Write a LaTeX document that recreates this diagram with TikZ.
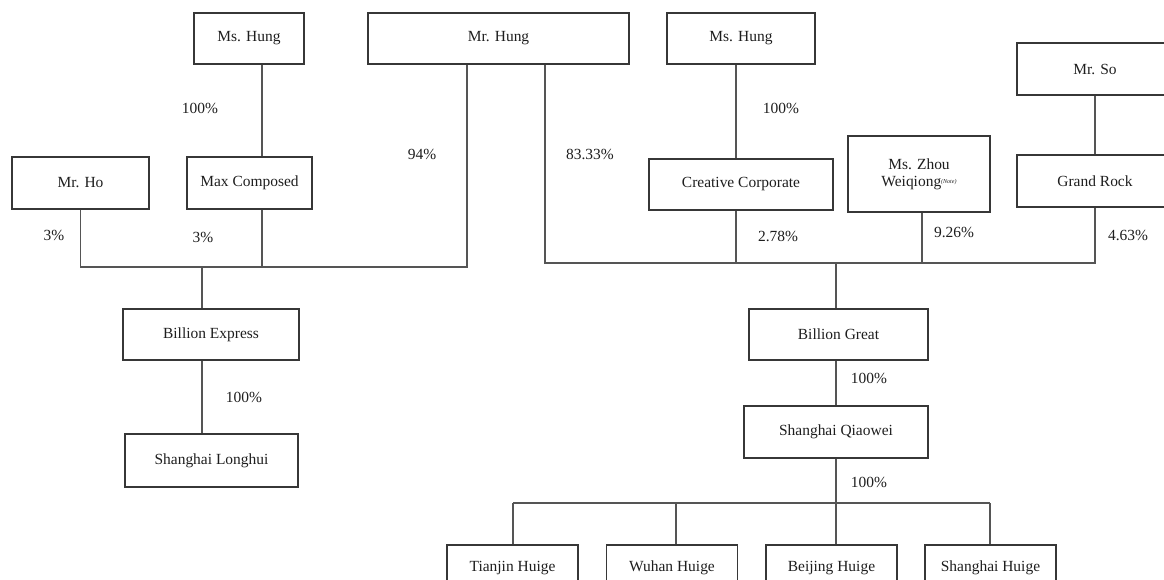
\documentclass[tikz,border=0pt]{standalone}
\usepackage{fontspec}
\setmainfont{Liberation Serif}
\usepackage{xcolor}
\definecolor{boxline}{RGB}{55,55,55}
\definecolor{linkgrey}{RGB}{85,85,85}
\definecolor{textgrey}{RGB}{30,30,30}
\newlength\pxu
\setlength\pxu{0.75pt}

\begin{document}
\begin{tikzpicture}[x=0.75pt, y=-0.75pt,
    box/.style={draw=boxline, line width=0.8pt, inner sep=0pt, minimum height=51\pxu,
      text=textgrey, font=\fontsize{11.6}{14}\selectfont},
    link/.style={draw=linkgrey, line width=0.8pt},
    pct/.style={text=textgrey, inner sep=0pt, font=\fontsize{11.6}{14}\selectfont}]
  \useasboundingbox (0,0) rectangle (1164,579);
  \clip (0,0) rectangle (1164,579);
  % Owners (top row)
  \node[box, minimum width=110\pxu] (msHungL) at (249,38.5) {Ms. Hung};
  \node[box, minimum width=261\pxu] (mrHung) at (498.5,38.5) {Mr. Hung};
  \node[box, minimum width=148\pxu] (msHungR) at (741,38.5) {Ms. Hung};
  \node[box, minimum width=156\pxu, minimum height=52\pxu] (mrSo) at (1095,69) {Mr. So};
  % Holding level
  \node[box, minimum width=137\pxu, minimum height=52\pxu] (mrHo) at (80.5,183) {Mr. Ho};
  \node[box, minimum width=125\pxu, minimum height=52\pxu] (maxComp) at (249.5,183) {Max Composed};
  \node[box, minimum width=184\pxu] (creative) at (741,184.5) {Creative Corporate};
  \node[box, minimum width=142\pxu, minimum height=76\pxu, align=center,
    font=\fontsize{11.6}{12.75}\selectfont] (msZhou) at (919,174)
    {Ms. Zhou\\Weiqiong\raisebox{0.35ex}{\fontsize{4.5}{5}\selectfont\itshape(Note)}};
  \node[box, minimum width=156\pxu, minimum height=52\pxu] (grandRock) at (1095,181) {Grand Rock};
  % Companies
  \node[box, minimum width=176\pxu] (billionExp) at (211,334.5) {Billion Express};
  \node[box, minimum width=173\pxu, minimum height=53\pxu] (longhui) at (211.5,460.5) {Shanghai Longhui};
  \node[box, minimum width=179\pxu] (billionGreat) at (838.5,334.5) {Billion Great};
  \node[box, minimum width=184\pxu, minimum height=52\pxu] (qiaowei) at (836,432) {Shanghai Qiaowei};
  % Junctions and line positions
  \coordinate (jL) at (202,267);
  \coordinate (jR) at (836,263);
  \coordinate (jB) at (836,503);
  \coordinate (xMax) at (262,0);
  \coordinate (xHungL) at (467,0);
  \coordinate (xHungR) at (545,0);
  \coordinate (xCre) at (736,0);
  \coordinate (xZhou) at (922,0);
  % Left tree
  \draw[link] (msHungL.south -| xMax) -- (maxComp.north -| xMax);
  \draw[link] (mrHo.south) |- (jL -| xHungL) -- (mrHung.south -| xHungL);
  \draw[link] (maxComp.south -| xMax) -- (jL -| xMax);
  \draw[link] (jL) -- (billionExp.north -| jL);
  \draw[link] (billionExp.south -| jL) -- (longhui.north -| jL);
  % Right tree
  \draw[link] (mrHung.south -| xHungR) |- (jR -| grandRock.south) -- (grandRock.south);
  \draw[link] (msHungR.south -| xCre) -- (creative.north -| xCre);
  \draw[link] (creative.south -| xCre) -- (jR -| xCre);
  \draw[link] (msZhou.south -| xZhou) -- (jR -| xZhou);
  \draw[link] (mrSo.south) -- (grandRock.north);
  \draw[link] (jR) -- (billionGreat.north -| jR);
  \draw[link] (billionGreat.south -| jR) -- (qiaowei.north -| jR);
  \draw[link] (qiaowei.south -| jR) -- (jB);
  % Subsidiaries
  \foreach \cx/\lx/\name/\txt in {512.5/513/tianjin/Tianjin, 672/676/wuhan/Wuhan,
      831.5/836/beijing/Beijing, 990.5/990/shHuige/Shanghai}{
    \node[box, minimum width=131\pxu, minimum height=46\pxu] (\name) at (\cx,568) {\txt\ Huige};
    \coordinate (top\name) at (\lx,503);
    \draw[link] (top\name) -- (\name.north -| top\name);
  }
  \draw[link] (toptianjin) -- (topshHuige);
  % Shareholdings
  \node[pct] (pMax) at (200,108) {100\%};
  \node[pct] (pHungL) at (422,154) {94\%};
  \node[pct] (pHungR) at (590,154) {83.33\%};
  \node[pct] (pCre) at (781,108) {100\%};
  \node[pct] (pHo) at (54,235) {3\%};
  \node[pct] (pMaxB) at (203,237) {3\%};
  \node[pct] (pCreB) at (778,236) {2.78\%};
  \node[pct] (pZhou) at (954,232) {9.26\%};
  \node[pct] (pRock) at (1128,235) {4.63\%};
  \node[pct] (pLong) at (244,397) {100\%};
  \node[pct] (pQiao) at (869,378) {100\%};
  \node[pct] (pSubs) at (869,482) {100\%};
\end{tikzpicture}
\end{document}
